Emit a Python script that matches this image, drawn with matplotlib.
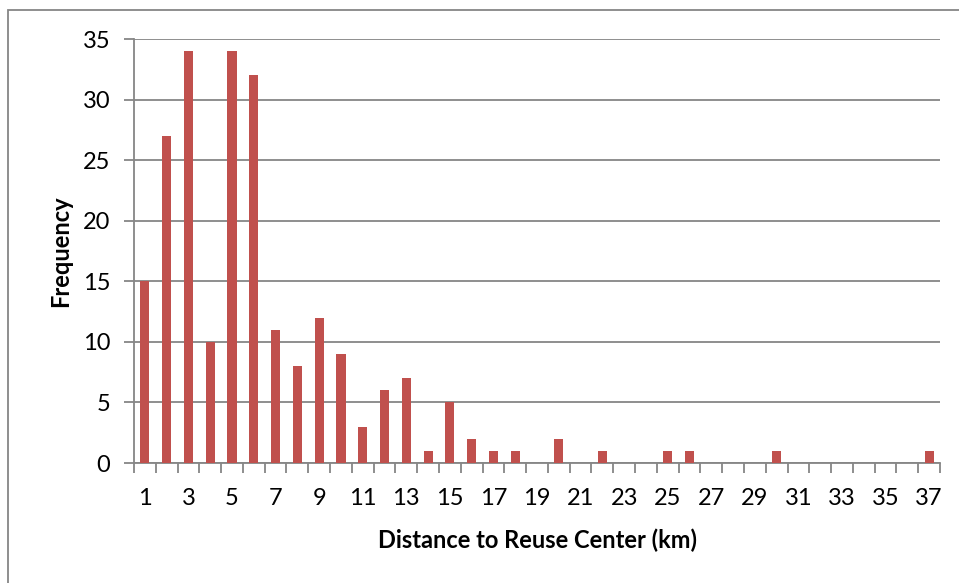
import matplotlib
matplotlib.use("Agg")
import matplotlib.pyplot as plt
from matplotlib.patches import Rectangle
import numpy as np

plt.rcParams['font.family'] = ['Lato', 'DejaVu Sans']

# distance (km) categories and frequency
distance = list(range(1, 38))
frequency = [15, 27, 34, 10, 34, 32, 11, 8, 12, 9, 3, 6, 7, 1, 5, 2, 1, 1, 0, 2,
             0, 1, 0, 0, 1, 1, 0, 0, 0, 1, 0, 0, 0, 0, 0, 0, 1]
tick_labels = [str(d) if d % 2 == 1 else "" for d in distance]

W, H = 959, 583
fig = plt.figure(figsize=(W / 100, H / 100), dpi=100)
ax = fig.add_axes([134 / W, 1 - 463 / H, (940 - 134) / W, (463 - 39) / H])

grey = "#868686"
ax.bar(distance, frequency, width=0.42, color="#C0504D", zorder=3)

ax.set_xlim(0.5, 37.5)
ax.set_ylim(0, 35)
ax.set_yticks(np.arange(0, 36, 5))
ax.yaxis.grid(True, color=grey, linewidth=1.3, zorder=0)

# ticks between categories, labels on odd categories
ax.set_xticks(np.arange(0.5, 38, 1))
ax.set_xticklabels([])
ax.set_xticks(distance, minor=True)
ax.set_xticklabels(tick_labels, minor=True, fontsize=17)
ax.tick_params(axis='x', which='major', length=7, width=1.3, color=grey, direction='out')
ax.tick_params(axis='x', which='minor', length=0, pad=18)
ax.tick_params(axis='y', length=7, width=1.3, color=grey, labelsize=17, pad=10)

for s in ['top', 'right']:
    ax.spines[s].set_visible(False)
for s in ['left', 'bottom']:
    ax.spines[s].set_color(grey)
    ax.spines[s].set_linewidth(1.3)

ax.set_xlabel("Distance to Reuse Center (km)", fontsize=17, fontweight='bold', labelpad=14)
ax.set_ylabel("Frequency", fontsize=17, fontweight='bold', labelpad=8)

# chart area border
fig.patches.append(Rectangle((8 / W, -0.1), 1.2, 1.1 - 10 / H, transform=fig.transFigure,
                             fill=False, edgecolor=grey, linewidth=1.3))

fig.savefig("out.png", dpi=100)
